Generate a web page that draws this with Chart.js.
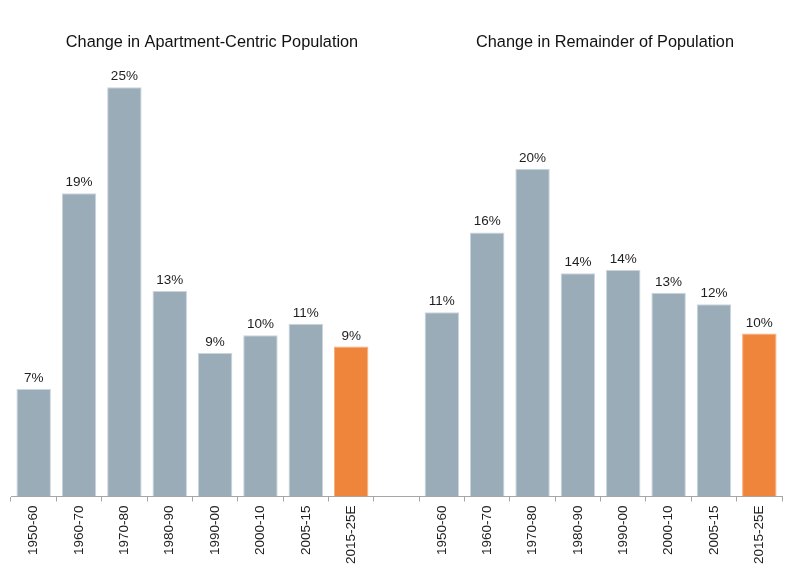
<!DOCTYPE html>
<html>
<head>
<meta charset="utf-8">
<script src="https://cdn.jsdelivr.net/npm/chart.js@4"></script>
<style>
  html, body { margin: 0; padding: 0; background: #fff; }
  #wrap { width: 800px; height: 583px; }
</style>
</head>
<body>
<div id="wrap"><canvas id="popChart"></canvas></div>
<script>
// decade periods, shared by both panels
const periods = ['1950-60', '1960-70', '1970-80', '1980-90', '1990-00', '2000-10', '2005-15', '2015-25E'];
// % change
const apartmentCentric = [6.6, 18.6, 25.1, 12.6, 8.8, 9.9, 10.6, 9.2];
const remainder = [11.3, 16.2, 20.1, 13.7, 13.9, 12.5, 11.8, 10.0];
const panelTitles = ['Change in Apartment-Centric Population', 'Change in Remainder of Population'];

const GREY = '#9bacb9';
const ORANGE = '#ef843b';
const FONT = '"Liberation Sans", Arial, sans-serif';

// one chart, an empty category splits the two panels
const labels = [...periods, '', ...periods];
const values = [...apartmentCentric, null, ...remainder];
const colors = values.map((v, i) =>
  (i === periods.length - 1 || i === labels.length - 1) ? ORANGE : GREY);
const borders = colors.map(c => c === ORANGE ? '#f5ae7c' : '#ccd5dc');

// percentage labels on top of each bar
const valueLabels = {
  id: 'valueLabels',
  afterDatasetsDraw(chart) {
    const ctx = chart.ctx;
    const meta = chart.getDatasetMeta(0);
    ctx.save();
    ctx.font = '13.5px ' + FONT;
    ctx.fillStyle = '#1e1e1e';
    ctx.textAlign = 'center';
    ctx.textBaseline = 'alphabetic';
    meta.data.forEach((bar, i) => {
      const v = values[i];
      if (v === null) return;
      ctx.fillText(Math.round(v) + '%', bar.x, bar.y - 7);
    });
    ctx.restore();
  }
};

// a title over each panel
const panelTitlePlugin = {
  id: 'panelTitles',
  afterDraw(chart, args, opts) {
    const ctx = chart.ctx;
    ctx.save();
    ctx.font = '16.3px ' + FONT;
    ctx.fillStyle = '#111';
    ctx.textAlign = 'center';
    ctx.textBaseline = 'alphabetic';
    panelTitles.forEach((t, i) => ctx.fillText(t, opts.xs[i], opts.y));
    ctx.restore();
  }
};

new Chart(document.getElementById('popChart'), {
  type: 'bar',
  data: {
    labels: labels,
    datasets: [{
      data: values,
      backgroundColor: colors,
      borderColor: borders,
      borderWidth: 1,
      barPercentage: 0.76,
      categoryPercentage: 1.0,
    }],
  },
  plugins: [valueLabels, panelTitlePlugin],
  options: {
    responsive: true,
    maintainAspectRatio: false,
    animation: false,
    layout: { padding: { top: 72.7, left: 11, right: 18, bottom: 0 } },
    scales: {
      x: {
        afterFit(scale) { scale.height = 86.5; },
        grid: {
          display: true,
          drawOnChartArea: false,
          drawTicks: true,
          tickLength: 5,
          color: '#a6a6a6',
        },
        border: { display: true, color: '#a6a6a6' },
        ticks: {
          minRotation: 90,
          maxRotation: 90,
          autoSkip: false,
          padding: 4,
          color: '#1e1e1e',
          font: { family: FONT, size: 13.5 },
        },
      },
      y: {
        display: false,
        min: 0,
        max: 26,
      },
    },
    plugins: {
      legend: { display: false },
      tooltip: { enabled: false },
      panelTitles: { xs: [212, 605], y: 46.5 },
    },
  },
});
</script>
</body>
</html>
